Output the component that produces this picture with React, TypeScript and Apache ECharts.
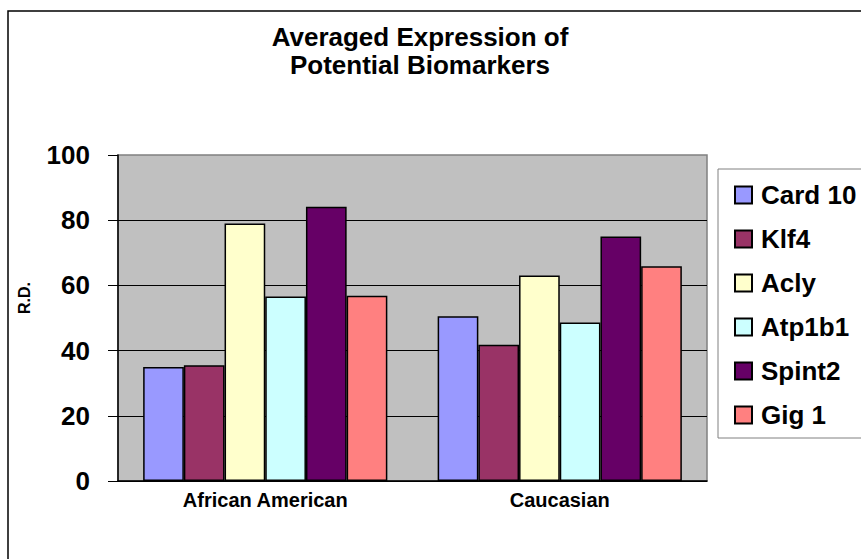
import React, { useEffect, useRef } from "react";
import * as echarts from "echarts";

const categories = ["African American", "Caucasian"];
const seriesNames = ["Card 10", "Klf4", "Acly", "Atp1b1", "Spint2", "Gig 1"];
const card10 = [35, 50.5];
const klf4 = [35.5, 41.8];
const acly = [79, 63];
const atp1b1 = [56.6, 48.6];
const spint2 = [84.1, 75];
const gig1 = [56.8, 65.9];
const seriesValues = [card10, klf4, acly, atp1b1, spint2, gig1];
const colors = ["#9999FF", "#993366", "#FFFFCC", "#CCFFFF", "#660066", "#FF8080"];
const yTicks = { min: 0, max: 100, interval: 20 };

const FONT = "Arial, 'Liberation Sans', Helvetica, sans-serif";

export default function App() {
  const ref = useRef<HTMLDivElement>(null);
  useEffect(() => {
    if (!ref.current) return;
    const chart = echarts.init(ref.current, null, { renderer: "svg" });
    chart.setOption({
      animation: false,
      backgroundColor: "#ffffff",
      title: {
        text: "Averaged Expression of\nPotential Biomarkers",
        left: 420,
        top: 23,
        padding: 0,
        textAlign: "center",
        textStyle: {
          fontFamily: FONT,
          fontSize: 26,
          fontWeight: "bold",
          color: "#000",
          lineHeight: 28,
        },
      },
      graphic: [
        {
          type: "rect",
          shape: { x: 8, y: 11, width: 900, height: 600 },
          style: { fill: "none", stroke: "#000", lineWidth: 1.5 },
          silent: true,
        },
      ],
      legend: {
        orient: "vertical",
        left: 718,
        top: 169,
        padding: [13, 16, 10, 16],
        itemGap: 18,
        itemWidth: 17,
        itemHeight: 17,
        icon: "rect",
        borderColor: "#808080",
        borderWidth: 1,
        backgroundColor: "#fff",
        data: seriesNames,
        textStyle: {
          fontFamily: FONT,
          fontSize: 26,
          fontWeight: "bold",
          color: "#000",
          padding: [0, 0, 0, 4],
        },
      },
      grid: {
        left: 118,
        top: 155,
        right: 154,
        bottom: 78,
        show: true,
        backgroundColor: "#C0C0C0",
        borderColor: "#808080",
        borderWidth: 1.5,
      },
      xAxis: {
        type: "category",
        data: categories,
        axisLine: { show: true, lineStyle: { color: "#000", width: 1.5 } },
        axisTick: { show: false },
        axisLabel: {
          fontFamily: FONT,
          fontSize: 20,
          fontWeight: "bold",
          color: "#000",
          margin: 9,
        },
      },
      yAxis: {
        type: "value",
        min: yTicks.min,
        max: yTicks.max,
        interval: yTicks.interval,
        name: "R.D.",
        nameLocation: "middle",
        nameGap: 86,
        nameTextStyle: {
          fontFamily: FONT,
          fontSize: 16,
          fontWeight: "bold",
          color: "#000",
          padding: [0, 0, 0, 40],
        },
        axisLine: { show: true, lineStyle: { color: "#000", width: 1.5 } },
        axisTick: { show: true, length: 10, lineStyle: { color: "#000", width: 1 } },
        axisLabel: {
          fontFamily: FONT,
          fontSize: 26,
          fontWeight: "bold",
          color: "#000",
          margin: 28,
        },
        splitLine: {
          show: true,
          showMaxLine: false,
          lineStyle: { color: ["#000", "#000", "#000", "#000", "#000", "#808080"], width: 1 },
        },
      },
      series: seriesNames.map((name, i) => ({
        name,
        type: "bar",
        data: seriesValues[i],
        barWidth: 40.7,
        barGap: "0%",
        itemStyle: { color: colors[i], borderColor: "#000", borderWidth: 1.5 },
      })),
    });
    return () => chart.dispose();
  }, []);
  return (
    <div
      ref={ref}
      style={{ position: "fixed", left: 0, top: 0, width: 861, height: 559 }}
    />
  );
}
